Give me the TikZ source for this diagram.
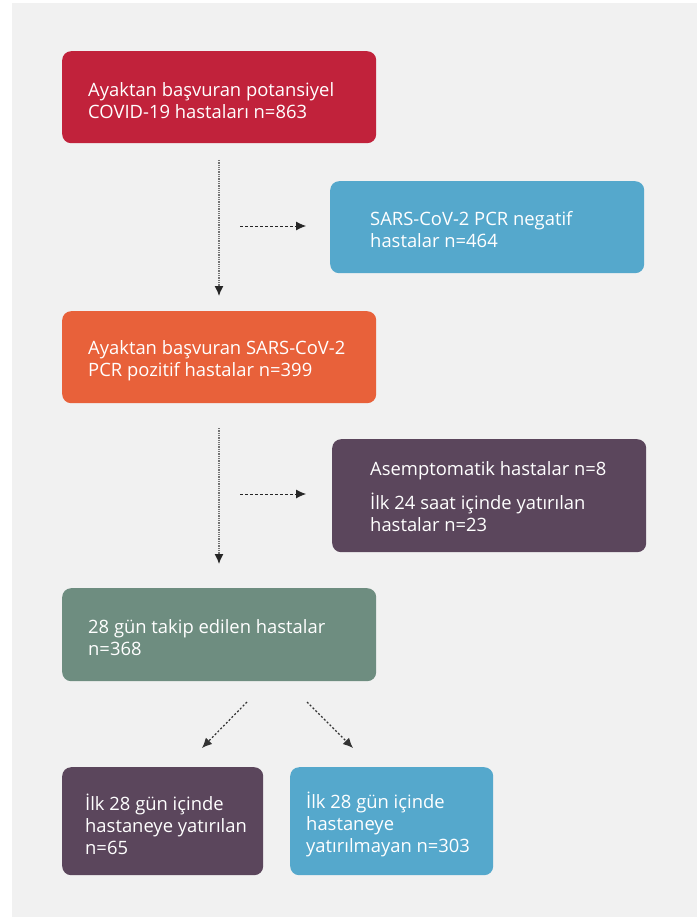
\documentclass[tikz,border=0pt]{standalone}
\usepackage{fontspec}
\setmainfont{Open Sans}
\usetikzlibrary{arrows.meta}
\definecolor{bgray}{HTML}{F1F1F1}
\definecolor{kred}{HTML}{C1223B}
\definecolor{kblue}{HTML}{55A8CC}
\definecolor{korange}{HTML}{E8613A}
\definecolor{kpurple}{HTML}{5B465C}
\definecolor{kgreen}{HTML}{6E8D80}
\tikzset{
  kutu/.style={anchor=north west, rounded corners=9pt, inner sep=0pt},
  yazi/.style={anchor=west, text=white, align=left, inner sep=0pt,
    font=\fontsize{18.4}{22}\selectfont},
  okdik/.style={-{Latex[length=10pt,width=9pt,color=black!85]}, densely dotted, line width=1.3pt, draw=black!55},
  okyatay/.style={->, dash pattern=on 3pt off 2pt, line width=0.8pt, draw=black!85},
  okcapraz/.style={->, dash pattern=on 2pt off 2pt, line width=1.2pt, draw=black!80}
}
\begin{document}
\begin{tikzpicture}[x=1pt, y=-1pt, >={Latex[length=10pt,width=9pt]}]
    \fill[bgray](12,3)rectangle(697,917);
    \useasboundingbox(0,0)rectangle(699,917);
    % kutular
    \node[kutu, fill=kred, minimum width=314pt, minimum height=92pt](basvuran) at (62,51){};
    \node[yazi](basvuranY) at ([xshift=26pt,yshift=-3pt]basvuran.west)
      {Ayaktan başvuran potansiyel\\COVID-19 hastaları n=863};
    \node[kutu, fill=kblue, minimum width=314pt, minimum height=92pt](negatif) at (330,181){};
    \node[yazi](negatifY) at ([xshift=40pt,yshift=-2pt]negatif.west)
      {SARS-CoV-2 PCR negatif\\hastalar n=464};
    \node[kutu, fill=korange, minimum width=314pt, minimum height=92pt](pozitif) at (62,311){};
    \node[yazi](pozitifY) at ([xshift=26pt,yshift=-4pt]pozitif.west)
      {Ayaktan başvuran SARS-CoV-2\\PCR pozitif hastalar n=399};
    \node[kutu, fill=kpurple, minimum width=314pt, minimum height=113pt](dislanan) at (332,439){};
    \node[yazi](dislananY) at ([xshift=38pt,yshift=-1pt]dislanan.west)
      {Asemptomatik hastalar n=8\\[12pt]İlk 24 saat içinde yatırılan\\hastalar n=23};
    \node[kutu, fill=kgreen, minimum width=314pt, minimum height=93pt](takip) at (62,588){};
    \node[yazi](takipY) at ([xshift=26pt,yshift=-3pt]takip.west)
      {28 gün takip edilen hastalar\\n=368};
    \node[kutu, fill=kpurple, minimum width=201pt, minimum height=108pt](yatan) at (62,767){};
    \node[yazi](yatanY) at ([xshift=23pt,yshift=-3pt]yatan.west)
      {İlk 28 gün içinde\\hastaneye yatırılan\\n=65};
    \node[kutu, fill=kblue, minimum width=203pt, minimum height=108pt](yatmayan) at (290,767){};
    \node[yazi](yatmayanY) at ([xshift=16pt,yshift=-3pt]yatmayan.west)
      {İlk 28 gün içinde\\hastaneye\\yatırılmayan n=303};
    % oklar
    \coordinate (a1) at (219,160); \coordinate (a2) at (219,296);
    \coordinate (b1) at (240,226); \coordinate (b2) at (306,226);
    \coordinate (c1) at (219,428); \coordinate (c2) at (219,564);
    \coordinate (d1) at (240,494); \coordinate (d2) at (306,494);
    \coordinate (e1) at (247,702); \coordinate (e2) at (202,748);
    \coordinate (f1) at (307,702); \coordinate (f2) at (353,748);
    \draw[okdik](a1)--(a2);
    \draw[okyatay](b1)--(b2);
    \draw[okdik](c1)--(c2);
    \draw[okyatay](d1)--(d2);
    \draw[okcapraz](e1)--(e2);
    \draw[okcapraz](f1)--(f2);
\end{tikzpicture}
\end{document}
